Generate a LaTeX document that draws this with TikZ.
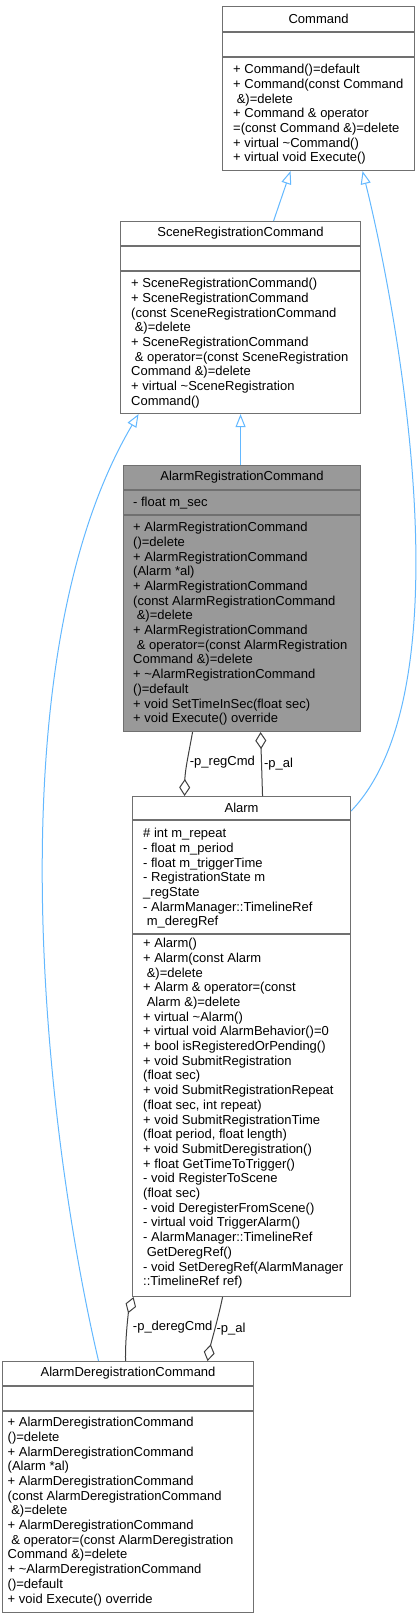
\documentclass[tikz,border=0pt]{standalone}
\usepackage{fontspec}
\setmainfont{Liberation Sans}
\usetikzlibrary{arrows.meta}
\usetikzlibrary{positioning}

\definecolor{edgeblue}{HTML}{63B8FF}
\definecolor{edgegray}{HTML}{404040}
\definecolor{boxgray}{HTML}{707070}
\definecolor{fillgray}{HTML}{999999}
\newcommand{\umlfont}{\fontsize{13}{14.7}\selectfont}
\newcommand{\lsp}{\hspace*{3.6pt}}

\begin{document}
\begin{tikzpicture}[x=1pt, y=-1pt,
    box/.style={draw=boxgray, line width=1.1pt, fill=white, anchor=north west, inner sep=0pt},
    sep/.style={draw=boxgray, line width=1.1pt},
    title/.style={inner sep=0pt, font=\umlfont},
    members/.style={anchor=north west, inner sep=0pt, align=left, font=\umlfont},
    inherit/.style={draw=edgeblue, line width=1pt, -{Triangle[fill=white, length=13pt, width=10pt]}},
    usage/.style={draw=edgegray, line width=1pt, -{Diamond[fill=white, length=17pt, width=11pt]}},
    lbl/.style={inner sep=2pt, font=\umlfont}]
    \useasboundingbox (0,0) rectangle (420,1619);

    % Command
    \node[box, minimum width=192pt, minimum height=164pt] (cmd) at (222,6) {};
    \draw[sep] ([yshift=-26pt]cmd.north west) -- ([yshift=-26pt]cmd.north east);
    \draw[sep] ([yshift=-51pt]cmd.north west) -- ([yshift=-51pt]cmd.north east);
    \node[title] (cmdT) at ([yshift=-13pt]cmd.north) {Command};
    \node[members] (cmdM) at (233,64) {+ Command()=default\\
        + Command(const Command\\
        \lsp\&)=delete\\
        + Command \& operator\\
        =(const Command \&)=delete\\
        + virtual \textasciitilde Command()\\
        + virtual void Execute()};

    % SceneRegistrationCommand
    \node[box, minimum width=240pt, minimum height=192pt] (scene) at (120,221) {};
    \draw[sep] ([yshift=-25pt]scene.north west) -- ([yshift=-25pt]scene.north east);
    \draw[sep] ([yshift=-50pt]scene.north west) -- ([yshift=-50pt]scene.north east);
    \node[title] (sceneT) at ([yshift=-12.5pt]scene.north) {SceneRegistrationCommand};
    \node[members] (sceneM) at (131,278) {+ SceneRegistrationCommand()\\
        + SceneRegistrationCommand\\
        (const SceneRegistrationCommand\\
        \lsp\&)=delete\\
        + SceneRegistrationCommand\\
        \lsp\& operator=(const SceneRegistration\\
        Command \&)=delete\\
        + virtual \textasciitilde SceneRegistration\\
        Command()};

    % AlarmRegistrationCommand
    \node[box, fill=fillgray, minimum width=237pt, minimum height=266pt] (areg) at (123,465) {};
    \draw[sep] ([yshift=-25pt]areg.north west) -- ([yshift=-25pt]areg.north east);
    \draw[sep] ([yshift=-50pt]areg.north west) -- ([yshift=-50pt]areg.north east);
    \node[title] (aregT) at ([yshift=-12.5pt]areg.north) {AlarmRegistrationCommand};
    \node[members] (aregA) at (133,497) {- float m\_sec};
    \node[members] (aregM) at (133,522) {+ AlarmRegistrationCommand\\
        ()=delete\\
        + AlarmRegistrationCommand\\
        (Alarm *al)\\
        + AlarmRegistrationCommand\\
        (const AlarmRegistrationCommand\\
        \lsp\&)=delete\\
        + AlarmRegistrationCommand\\
        \lsp\& operator=(const AlarmRegistration\\
        Command \&)=delete\\
        + \textasciitilde AlarmRegistrationCommand\\
        ()=default\\
        + void SetTimeInSec(float sec)\\
        + void Execute() override};

    % Alarm
    \node[box, minimum width=218pt, minimum height=500pt] (alarm) at (132,796) {};
    \draw[sep] ([yshift=-24pt]alarm.north west) -- ([yshift=-24pt]alarm.north east);
    \draw[sep] ([yshift=-138pt]alarm.north west) -- ([yshift=-138pt]alarm.north east);
    \node[title] (alarmT) at ([yshift=-12pt]alarm.north) {Alarm};
    \node[members] (alarmA) at (143,828) {\# int m\_repeat\\
        - float m\_period\\
        - float m\_triggerTime\\
        - RegistrationState m\\
        \_regState\\
        - AlarmManager::TimelineRef\\
        \lsp m\_deregRef};
    \node[members] (alarmM) at (143,938) {+ Alarm()\\
        + Alarm(const Alarm\\
        \lsp\&)=delete\\
        + Alarm \& operator=(const\\
        \lsp Alarm \&)=delete\\
        + virtual \textasciitilde Alarm()\\
        + virtual void AlarmBehavior()=0\\
        + bool isRegisteredOrPending()\\
        + void SubmitRegistration\\
        (float sec)\\
        + void SubmitRegistrationRepeat\\
        (float sec, int repeat)\\
        + void SubmitRegistrationTime\\
        (float period, float length)\\
        + void SubmitDeregistration()\\
        + float GetTimeToTrigger()\\
        - void RegisterToScene\\
        (float sec)\\
        - void DeregisterFromScene()\\
        - virtual void TriggerAlarm()\\
        - AlarmManager::TimelineRef\\
        \lsp GetDeregRef()\\
        - void SetDeregRef(AlarmManager\\
        ::TimelineRef ref)};

    % AlarmDeregistrationCommand
    \node[box, minimum width=251pt, minimum height=251pt] (adereg) at (2,1361) {};
    \draw[sep] ([yshift=-25pt]adereg.north west) -- ([yshift=-25pt]adereg.north east);
    \draw[sep] ([yshift=-50pt]adereg.north west) -- ([yshift=-50pt]adereg.north east);
    \node[title] (aderegT) at ([yshift=-12.5pt]adereg.north) {AlarmDeregistrationCommand};
    \node[members] (aderegM) at (7.5,1417) {+ AlarmDeregistrationCommand\\
        ()=delete\\
        + AlarmDeregistrationCommand\\
        (Alarm *al)\\
        + AlarmDeregistrationCommand\\
        (const AlarmDeregistrationCommand\\
        \lsp\&)=delete\\
        + AlarmDeregistrationCommand\\
        \lsp\& operator=(const AlarmDeregistration\\
        Command \&)=delete\\
        + \textasciitilde AlarmDeregistrationCommand\\
        ()=default\\
        + void Execute() override};

    % inheritance
    \draw[inherit] ([xshift=33pt]scene.north) -- ([xshift=-28pt]cmd.south);
    \draw[inherit] (scene.south |- areg.north) -- (scene.south);
    \draw[inherit] ([xshift=-29.5pt]adereg.north) .. controls (42.7,1121.7) and (-6.7,660.3) .. ([xshift=-102pt]scene.south);
    \draw[inherit] ([yshift=-15pt]alarm.north east) .. controls (471,686) and (393,293) .. ([xshift=44pt]cmd.south);

    % usage
    \draw[usage] ([xshift=-49.5pt]areg.south) .. controls (189,752) and (185,770) .. node[lbl, right, pos=0.5] {-p\_regCmd} ([xshift=-57pt]alarm.north);
    \draw[usage] ([xshift=21pt]alarm.north) -- node[lbl, right, pos=0.5] {-p\_al} ([xshift=18.5pt]areg.south);
    \draw[usage] ([xshift=-2.5pt]adereg.north) .. controls (125,1340) and (128.5,1312) .. node[lbl, right, pos=0.5, xshift=3pt] {-p\_deregCmd} ([xshift=-108pt]alarm.south);
    \draw[usage] ([xshift=-19pt]alarm.south) .. controls (219,1315) and (211,1343) .. node[lbl, right, pos=0.5, inner sep=1pt] {-p\_al} ([xshift=79.5pt]adereg.north);
\end{tikzpicture}
\end{document}
